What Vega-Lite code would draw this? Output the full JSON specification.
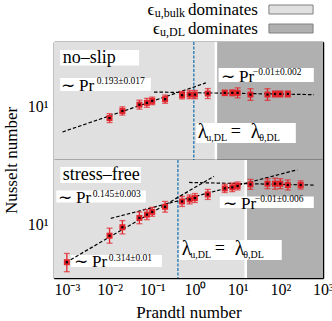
{
  "$schema": "https://vega.github.io/schema/vega-lite/v6.json",
  "padding": {"left": 1, "top": 0, "right": 5, "bottom": 0},
  "spacing": 0,
  "bounds": "flush",
  "resolve": {"scale": {"x": "independent", "y": "independent"}},
  "config": {
    "view": {"stroke": null},
    "font": "Liberation Serif",
    "text": {"font": "Liberation Serif", "color": "black"},
    "axis": {"domain": true, "domainColor": "black", "domainWidth": 1.5, "tickColor": "black", "tickWidth": 1, "grid": false, "zindex": 1,
      "labelFont": "Liberation Serif", "labelFontSize": 16, "labelColor": "black", "labelOverlap": false, "labelFlush": false, "labelBound": false,
      "titleFont": "Liberation Serif", "titleFontSize": 17, "titleFontWeight": "normal", "titleColor": "black"}
  },
  "datasets": {
    "legend": [{"row": 0, "k": "bulk", "sub": "u,bulk"}, {"row": 1, "k": "DL", "sub": "u,DL"}],
    "regionsTop": [{"a": 0.0005, "b": 3.1, "k": "bulk"}, {"a": 3.1, "b": 1000, "k": "DL"}],
    "regionsBot": [{"a": 0.0005, "b": 15.5, "k": "bulk"}, {"a": 15.5, "b": 1000, "k": "DL"}],
    "noslip": [
      {"Pr": 0.01, "Nu": 7.54, "lo": 6.73, "hi": 8.44},
      {"Pr": 0.02, "Nu": 9.03, "lo": 8.14, "hi": 10.02},
      {"Pr": 0.05, "Nu": 10.6, "lo": 9.46, "hi": 11.87},
      {"Pr": 0.075, "Nu": 11.1, "lo": 9.91, "hi": 12.43},
      {"Pr": 0.1, "Nu": 11.66, "lo": 10.6, "hi": 12.83},
      {"Pr": 0.2, "Nu": 12.18, "lo": 10.97, "hi": 13.52},
      {"Pr": 0.5, "Nu": 13.49, "lo": 12.26, "hi": 14.84},
      {"Pr": 0.75, "Nu": 13.7, "lo": 12.34, "hi": 15.21},
      {"Pr": 1, "Nu": 13.7, "lo": 12.34, "hi": 15.21},
      {"Pr": 2, "Nu": 14.05, "lo": 12.38, "hi": 15.95},
      {"Pr": 5, "Nu": 14.3, "lo": 13.36, "hi": 15.3},
      {"Pr": 7.5, "Nu": 14.3, "lo": 13.24, "hi": 15.44},
      {"Pr": 10, "Nu": 14.3, "lo": 12.6, "hi": 16.23},
      {"Pr": 20, "Nu": 13.7, "lo": 11.81, "hi": 15.89},
      {"Pr": 50, "Nu": 13.7, "lo": 11.81, "hi": 15.89},
      {"Pr": 75, "Nu": 13.9, "lo": 12.87, "hi": 15.01},
      {"Pr": 100, "Nu": 13.9, "lo": 12.87, "hi": 15.01},
      {"Pr": 150, "Nu": 13.9, "lo": 12.87, "hi": 15.01}
    ],
    "stressfree": [
      {"Pr": 0.001, "Nu": 3.88, "lo": 3.05, "hi": 4.85},
      {"Pr": 0.01, "Nu": 7.61, "lo": 6.29, "hi": 9.21},
      {"Pr": 0.02, "Nu": 9.43, "lo": 7.96, "hi": 11.17},
      {"Pr": 0.05, "Nu": 11.96, "lo": 10.31, "hi": 13.87},
      {"Pr": 0.075, "Nu": 13.0, "lo": 11.45, "hi": 14.76},
      {"Pr": 0.1, "Nu": 13.95, "lo": 12.46, "hi": 15.62},
      {"Pr": 0.2, "Nu": 15.85, "lo": 13.84, "hi": 18.15},
      {"Pr": 0.5, "Nu": 18.15, "lo": 15.99, "hi": 20.6},
      {"Pr": 0.75, "Nu": 19.1, "lo": 17.05, "hi": 21.39},
      {"Pr": 1, "Nu": 19.8, "lo": 17.68, "hi": 22.18},
      {"Pr": 2, "Nu": 21.7, "lo": 19.12, "hi": 24.63},
      {"Pr": 5, "Nu": 25.3, "lo": 22.79, "hi": 28.08},
      {"Pr": 7.5, "Nu": 25.96, "lo": 23.28, "hi": 28.95},
      {"Pr": 10, "Nu": 26.9, "lo": 24.34, "hi": 29.72},
      {"Pr": 20, "Nu": 28.0, "lo": 24.67, "hi": 31.78},
      {"Pr": 50, "Nu": 28.5, "lo": 25.11, "hi": 32.35},
      {"Pr": 75, "Nu": 28.5, "lo": 24.78, "hi": 32.78},
      {"Pr": 100, "Nu": 28.5, "lo": 25.11, "hi": 32.35},
      {"Pr": 150, "Nu": 27.6, "lo": 24.32, "hi": 31.33},
      {"Pr": 300, "Nu": 27.6, "lo": 24.86, "hi": 30.64}
    ],
    "fitTop": [
      {"seg": "a", "Pr": 0.00079, "Nu": 5.3}, {"seg": "a", "Pr": 1.8, "Nu": 18.4},
      {"seg": "b", "Pr": 0.11, "Nu": 14.6}, {"seg": "b", "Pr": 617, "Nu": 13.67}
    ],
    "fitBot": [
      {"seg": "a", "Pr": 0.00095, "Nu": 3.86}, {"seg": "a", "Pr": 2.8, "Nu": 34.3},
      {"seg": "b", "Pr": 0.0107, "Nu": 11.8}, {"seg": "b", "Pr": 250, "Nu": 40.6},
      {"seg": "c", "Pr": 0.73, "Nu": 29.4}, {"seg": "c", "Pr": 617, "Nu": 27.5}
    ]
  },
  "vconcat": [
    {
      "width": 269, "height": 40,
      "data": {"name": "legend"},
      "layer": [
        {"mark": {"type": "rect", "height": 9, "stroke": "#808080", "strokeWidth": 1},
         "encoding": {
           "x": {"datum": 0.799, "type": "quantitative", "scale": {"domain": [0, 1], "nice": false, "zero": false}, "axis": null},
           "x2": {"datum": 0.963},
           "y": {"field": "row", "type": "quantitative", "scale": {"domain": [1.71, -0.395], "nice": false, "zero": false}, "axis": null},
           "color": {"field": "k", "type": "nominal", "scale": {"domain": ["bulk", "DL"], "range": ["#e0e0e0", "#b0b0b0"]}, "legend": null}}},
        {"mark": {"type": "text", "text": "dominates", "align": "left", "baseline": "middle", "fontSize": 17},
         "encoding": {"x": {"datum": 0.498, "type": "quantitative", "axis": null}, "y": {"field": "row", "type": "quantitative", "axis": null}}},
        {"mark": {"type": "text", "align": "right", "baseline": "middle", "fontSize": 12, "dy": 3},
         "encoding": {"text": {"field": "sub"}, "x": {"datum": 0.487, "type": "quantitative", "axis": null}, "y": {"field": "row", "type": "quantitative", "axis": null}}},
        {"transform": [{"filter": "datum.row == 0"}],
         "mark": {"type": "text", "text": "ϵ", "align": "right", "baseline": "middle", "fontSize": 17},
         "encoding": {"x": {"datum": 0.3735, "type": "quantitative", "axis": null}, "y": {"field": "row", "type": "quantitative", "axis": null}}},
        {"transform": [{"filter": "datum.row == 1"}],
         "mark": {"type": "text", "text": "ϵ", "align": "right", "baseline": "middle", "fontSize": 17},
         "encoding": {"x": {"datum": 0.394, "type": "quantitative", "axis": null}, "y": {"field": "row", "type": "quantitative", "axis": null}}}
      ]
    },
    {
      "width": 269, "height": 118,
      "data": {"values": [{}]},
      "resolve": {"axis": {"x": "independent", "y": "independent"}},
      "layer": [
        {"data": {"name": "regionsTop"}, "mark": {"type": "rect"},
         "encoding": {
           "x": {"field": "a", "type": "quantitative", "scale": {"type": "log", "domain": [0.0005, 1000], "nice": false}, "axis": null},
           "x2": {"field": "b"},
           "color": {"field": "k", "type": "nominal", "scale": {"domain": ["bulk", "DL"], "range": ["#e0e0e0", "#b0b0b0"]}, "legend": null}}},
        {"mark": {"type": "rule", "color": "white", "strokeWidth": 2.5},
         "encoding": {"x": {"datum": 3.1, "type": "quantitative", "axis": null}}},
        {"mark": {"type": "rule", "color": "#1f77b4", "strokeWidth": 1.3, "strokeDash": [3, 1.5]},
         "encoding": {"x": {"datum": 0.942, "type": "quantitative", "axis": null}}},
        {"mark": {"type": "rect", "fill": "white"},
         "encoding": {"x": {"datum": 0.000697, "type": "quantitative", "axis": null}, "x2": {"datum": 0.0493},
           "y": {"datum": 42.5, "type": "quantitative", "scale": {"type": "log", "domain": [2.6, 52], "nice": false}, "axis": null}, "y2": {"datum": 28.7}}},
        {"mark": {"type": "rect", "fill": "white"},
         "encoding": {"x": {"datum": 0.000697, "type": "quantitative", "axis": null}, "x2": {"datum": 0.0927},
           "y": {"datum": 20.9, "type": "quantitative", "axis": null}, "y2": {"datum": 15.01}}},
        {"mark": {"type": "rect", "fill": "white"},
         "encoding": {"x": {"datum": 3.57, "type": "quantitative", "axis": null}, "x2": {"datum": 609},
           "y": {"datum": 26.9, "type": "quantitative", "axis": null}, "y2": {"datum": 18.87}}},
        {"mark": {"type": "rect", "fill": "white"},
         "encoding": {"x": {"datum": 1.079, "type": "quantitative", "axis": null}, "x2": {"datum": 231},
           "y": {"datum": 6.66, "type": "quantitative", "axis": null}, "y2": {"datum": 4.01}}},
        {"mark": {"type": "text", "text": "no–slip", "align": "left", "baseline": "middle", "fontSize": 18},
         "encoding": {"x": {"datum": 0.000806, "type": "quantitative", "axis": null}, "y": {"datum": 34.97, "type": "quantitative", "axis": null}}},
        {"mark": {"type": "text", "text": "∼ Pr", "align": "left", "baseline": "middle", "fontSize": 17},
         "encoding": {"x": {"datum": 0.000724, "type": "quantitative", "axis": null}, "y": {"datum": 17.04, "type": "quantitative", "axis": null}}},
        {"mark": {"type": "text", "text": "0.193±0.017", "align": "left", "baseline": "middle", "fontSize": 9.5},
         "encoding": {"x": {"datum": 0.00504, "type": "quantitative", "axis": null}, "y": {"datum": 19.1, "type": "quantitative", "axis": null}}},
        {"mark": {"type": "text", "text": "∼ Pr", "align": "left", "baseline": "middle", "fontSize": 17},
         "encoding": {"x": {"datum": 4.04, "type": "quantitative", "axis": null}, "y": {"datum": 21.4, "type": "quantitative", "axis": null}}},
        {"mark": {"type": "text", "text": "−0.01±0.002", "align": "left", "baseline": "middle", "fontSize": 9.5},
         "encoding": {"x": {"datum": 22.7, "type": "quantitative", "axis": null}, "y": {"datum": 24.0, "type": "quantitative", "axis": null}}},
        {"mark": {"type": "text", "text": "λ", "align": "left", "baseline": "middle", "fontSize": 20},
         "encoding": {"x": {"datum": 1.17, "type": "quantitative", "axis": null}, "y": {"datum": 5.3, "type": "quantitative", "axis": null}}},
        {"mark": {"type": "text", "text": "u,DL", "align": "left", "baseline": "middle", "fontSize": 10},
         "encoding": {"x": {"datum": 1.85, "type": "quantitative", "axis": null}, "y": {"datum": 4.55, "type": "quantitative", "axis": null}}},
        {"mark": {"type": "text", "text": "=", "align": "left", "baseline": "middle", "fontSize": 18},
         "encoding": {"x": {"datum": 6.93, "type": "quantitative", "axis": null}, "y": {"datum": 5.3, "type": "quantitative", "axis": null}}},
        {"mark": {"type": "text", "text": "λ", "align": "left", "baseline": "middle", "fontSize": 20},
         "encoding": {"x": {"datum": 20.4, "type": "quantitative", "axis": null}, "y": {"datum": 5.3, "type": "quantitative", "axis": null}}},
        {"mark": {"type": "text", "text": "θ,DL", "align": "left", "baseline": "middle", "fontSize": 10},
         "encoding": {"x": {"datum": 32.2, "type": "quantitative", "axis": null}, "y": {"datum": 4.55, "type": "quantitative", "axis": null}}},
        {"data": {"name": "fitTop"}, "mark": {"type": "line", "color": "black", "strokeWidth": 1.2, "strokeDash": [3.5, 2]},
         "encoding": {"x": {"field": "Pr", "type": "quantitative", "axis": null}, "y": {"field": "Nu", "type": "quantitative", "axis": null}, "detail": {"field": "seg"}}},
        {"data": {"name": "noslip"}, "mark": {"type": "rule", "color": "#e3242b", "strokeWidth": 1.3},
         "encoding": {
           "x": {"field": "Pr", "type": "quantitative", "axis": {"orient": "top", "labels": false, "title": null,
             "values": [0.0005,0.0006,0.0007,0.0008,0.0009,0.001,0.002,0.003,0.004,0.005,0.006,0.007,0.008,0.009,0.01,0.02,0.03,0.04,0.05,0.06,0.07,0.08,0.09,0.1,0.2,0.3,0.4,0.5,0.6,0.7,0.8,0.9,1,2,3,4,5,6,7,8,9,10,20,30,40,50,60,70,80,90,100,200,300,400,500,600,700,800,900,1000],
             "tickSize": {"condition": {"test": "abs(log(datum.value)/LN10-round(log(datum.value)/LN10))<0.001", "value": -6}, "value": -3.5}}},
           "y": {"field": "lo", "type": "quantitative", "axis": {"orient": "right", "labels": false, "title": null,
             "values": [3,4,5,6,7,8,9,10,20,30,40,50],
             "tickSize": {"condition": {"test": "abs(log(datum.value)/LN10-round(log(datum.value)/LN10))<0.001", "value": -6}, "value": -3.5}}},
           "y2": {"field": "hi"}}},
        {"data": {"name": "noslip"}, "mark": {"type": "tick", "orient": "horizontal", "color": "#e3242b", "size": 6, "thickness": 1.3},
         "encoding": {"x": {"field": "Pr", "type": "quantitative", "axis": null}, "y": {"field": "lo", "type": "quantitative", "axis": null}}},
        {"data": {"name": "noslip"}, "mark": {"type": "tick", "orient": "horizontal", "color": "#e3242b", "size": 6, "thickness": 1.3},
         "encoding": {"x": {"field": "Pr", "type": "quantitative", "axis": null}, "y": {"field": "hi", "type": "quantitative", "axis": null}}},
        {"data": {"name": "noslip"}, "mark": {"type": "square", "color": "#e3242b", "size": 36, "opacity": 1},
         "encoding": {
           "x": {"field": "Pr", "type": "quantitative", "axis": {"orient": "bottom", "labels": false, "title": null,
             "values": [0.0005,0.0006,0.0007,0.0008,0.0009,0.001,0.002,0.003,0.004,0.005,0.006,0.007,0.008,0.009,0.01,0.02,0.03,0.04,0.05,0.06,0.07,0.08,0.09,0.1,0.2,0.3,0.4,0.5,0.6,0.7,0.8,0.9,1,2,3,4,5,6,7,8,9,10,20,30,40,50,60,70,80,90,100,200,300,400,500,600,700,800,900,1000],
             "tickSize": {"condition": {"test": "abs(log(datum.value)/LN10-round(log(datum.value)/LN10))<0.001", "value": -6}, "value": -3.5}}},
           "y": {"field": "Nu", "type": "quantitative", "axis": {"orient": "left", "title": null, "labelPadding": 12,
             "labelExpr": "datum.value == 10 ? '10¹' : ''",
             "values": [3,4,5,6,7,8,9,10,20,30,40,50],
             "tickSize": {"condition": {"test": "abs(log(datum.value)/LN10-round(log(datum.value)/LN10))<0.001", "value": -6}, "value": -3.5}}}}},
        {"data": {"name": "noslip"}, "mark": {"type": "square", "color": "black", "size": 5, "opacity": 1},
         "encoding": {"x": {"field": "Pr", "type": "quantitative", "axis": null}, "y": {"field": "Nu", "type": "quantitative", "axis": null}}}
      ]
    },
    {
      "width": 269, "height": 118,
      "data": {"values": [{}]},
      "resolve": {"axis": {"x": "independent", "y": "independent"}},
      "layer": [
        {"data": {"name": "regionsBot"}, "mark": {"type": "rect"},
         "encoding": {
           "x": {"field": "a", "type": "quantitative", "scale": {"type": "log", "domain": [0.0005, 1000], "nice": false}, "axis": null},
           "x2": {"field": "b"},
           "color": {"field": "k", "type": "nominal", "scale": {"domain": ["bulk", "DL"], "range": ["#e0e0e0", "#b0b0b0"]}, "legend": null}}},
        {"mark": {"type": "rule", "color": "white", "strokeWidth": 2.5},
         "encoding": {"x": {"datum": 15.5, "type": "quantitative", "axis": null}}},
        {"mark": {"type": "rule", "color": "#1f77b4", "strokeWidth": 1.3, "strokeDash": [3, 1.5]},
         "encoding": {"x": {"datum": 0.4, "type": "quantitative", "axis": null}}},
        {"mark": {"type": "rect", "fill": "white"},
         "encoding": {"x": {"datum": 0.000705, "type": "quantitative", "axis": null}, "x2": {"datum": 0.054},
           "y": {"datum": 43.6, "type": "quantitative", "scale": {"type": "log", "domain": [2.6, 52], "nice": false}, "axis": null}, "y2": {"datum": 29.0}}},
        {"mark": {"type": "rect", "fill": "white"},
         "encoding": {"x": {"datum": 0.000568, "type": "quantitative", "axis": null}, "x2": {"datum": 0.0708},
           "y": {"datum": 24.0, "type": "quantitative", "axis": null}, "y2": {"datum": 17.7}}},
        {"mark": {"type": "rect", "fill": "white"},
         "encoding": {"x": {"datum": 3.83, "type": "quantitative", "axis": null}, "x2": {"datum": 609},
           "y": {"datum": 20.6, "type": "quantitative", "axis": null}, "y2": {"datum": 15.39}}},
        {"mark": {"type": "rect", "fill": "white"},
         "encoding": {"x": {"datum": 0.432, "type": "quantitative", "axis": null}, "x2": {"datum": 108},
           "y": {"datum": 6.83, "type": "quantitative", "axis": null}, "y2": {"datum": 4.11}}},
        {"mark": {"type": "rect", "fill": "white"},
         "encoding": {"x": {"datum": 0.00124, "type": "quantitative", "axis": null}, "x2": {"datum": 0.168},
           "y": {"datum": 4.67, "type": "quantitative", "axis": null}, "y2": {"datum": 3.44}}},
        {"mark": {"type": "text", "text": "stress–free", "align": "left", "baseline": "middle", "fontSize": 18},
         "encoding": {"x": {"datum": 0.000806, "type": "quantitative", "axis": null}, "y": {"datum": 35.6, "type": "quantitative", "axis": null}}},
        {"mark": {"type": "text", "text": "∼ Pr", "align": "left", "baseline": "middle", "fontSize": 17},
         "encoding": {"x": {"datum": 0.000615, "type": "quantitative", "axis": null}, "y": {"datum": 19.6, "type": "quantitative", "axis": null}}},
        {"mark": {"type": "text", "text": "0.145±0.003", "align": "left", "baseline": "middle", "fontSize": 9.5},
         "encoding": {"x": {"datum": 0.00406, "type": "quantitative", "axis": null}, "y": {"datum": 22.0, "type": "quantitative", "axis": null}}},
        {"mark": {"type": "text", "text": "∼ Pr", "align": "left", "baseline": "middle", "fontSize": 17},
         "encoding": {"x": {"datum": 4.5, "type": "quantitative", "axis": null}, "y": {"datum": 17.04, "type": "quantitative", "axis": null}}},
        {"mark": {"type": "text", "text": "−0.01±0.006", "align": "left", "baseline": "middle", "fontSize": 9.5},
         "encoding": {"x": {"datum": 25.3, "type": "quantitative", "axis": null}, "y": {"datum": 19.1, "type": "quantitative", "axis": null}}},
        {"mark": {"type": "text", "text": "∼ Pr", "align": "left", "baseline": "middle", "fontSize": 17},
         "encoding": {"x": {"datum": 0.00146, "type": "quantitative", "axis": null}, "y": {"datum": 3.86, "type": "quantitative", "axis": null}}},
        {"mark": {"type": "text", "text": "0.314±0.01", "align": "left", "baseline": "middle", "fontSize": 9.5},
         "encoding": {"x": {"datum": 0.00963, "type": "quantitative", "axis": null}, "y": {"datum": 4.33, "type": "quantitative", "axis": null}}},
        {"mark": {"type": "text", "text": "λ", "align": "left", "baseline": "middle", "fontSize": 20},
         "encoding": {"x": {"datum": 0.493, "type": "quantitative", "axis": null}, "y": {"datum": 5.44, "type": "quantitative", "axis": null}}},
        {"mark": {"type": "text", "text": "u,DL", "align": "left", "baseline": "middle", "fontSize": 10},
         "encoding": {"x": {"datum": 0.78, "type": "quantitative", "axis": null}, "y": {"datum": 4.67, "type": "quantitative", "axis": null}}},
        {"mark": {"type": "text", "text": "=", "align": "left", "baseline": "middle", "fontSize": 18},
         "encoding": {"x": {"datum": 2.92, "type": "quantitative", "axis": null}, "y": {"datum": 5.44, "type": "quantitative", "axis": null}}},
        {"mark": {"type": "text", "text": "λ", "align": "left", "baseline": "middle", "fontSize": 20},
         "encoding": {"x": {"datum": 8.59, "type": "quantitative", "axis": null}, "y": {"datum": 5.44, "type": "quantitative", "axis": null}}},
        {"mark": {"type": "text", "text": "θ,DL", "align": "left", "baseline": "middle", "fontSize": 10},
         "encoding": {"x": {"datum": 13.6, "type": "quantitative", "axis": null}, "y": {"datum": 4.67, "type": "quantitative", "axis": null}}},
        {"data": {"name": "fitBot"}, "mark": {"type": "line", "color": "black", "strokeWidth": 1.2, "strokeDash": [3.5, 2]},
         "encoding": {"x": {"field": "Pr", "type": "quantitative", "axis": null}, "y": {"field": "Nu", "type": "quantitative", "axis": null}, "detail": {"field": "seg"}}},
        {"data": {"name": "stressfree"}, "mark": {"type": "rule", "color": "#e3242b", "strokeWidth": 1.3},
         "encoding": {
           "x": {"field": "Pr", "type": "quantitative", "axis": {"orient": "top", "labels": false, "title": null,
             "values": [0.0005,0.0006,0.0007,0.0008,0.0009,0.001,0.002,0.003,0.004,0.005,0.006,0.007,0.008,0.009,0.01,0.02,0.03,0.04,0.05,0.06,0.07,0.08,0.09,0.1,0.2,0.3,0.4,0.5,0.6,0.7,0.8,0.9,1,2,3,4,5,6,7,8,9,10,20,30,40,50,60,70,80,90,100,200,300,400,500,600,700,800,900,1000],
             "tickSize": {"condition": {"test": "abs(log(datum.value)/LN10-round(log(datum.value)/LN10))<0.001", "value": -6}, "value": -3.5}}},
           "y": {"field": "lo", "type": "quantitative", "axis": {"orient": "right", "labels": false, "title": null,
             "values": [3,4,5,6,7,8,9,10,20,30,40,50],
             "tickSize": {"condition": {"test": "abs(log(datum.value)/LN10-round(log(datum.value)/LN10))<0.001", "value": -6}, "value": -3.5}}},
           "y2": {"field": "hi"}}},
        {"data": {"name": "stressfree"}, "mark": {"type": "tick", "orient": "horizontal", "color": "#e3242b", "size": 6, "thickness": 1.3},
         "encoding": {"x": {"field": "Pr", "type": "quantitative", "axis": null}, "y": {"field": "lo", "type": "quantitative", "axis": null}}},
        {"data": {"name": "stressfree"}, "mark": {"type": "tick", "orient": "horizontal", "color": "#e3242b", "size": 6, "thickness": 1.3},
         "encoding": {"x": {"field": "Pr", "type": "quantitative", "axis": null}, "y": {"field": "hi", "type": "quantitative", "axis": null}}},
        {"data": {"name": "stressfree"}, "mark": {"type": "square", "color": "#e3242b", "size": 36, "opacity": 1},
         "encoding": {
           "x": {"field": "Pr", "type": "quantitative", "axis": {"orient": "bottom", "title": "Prandtl number", "labelPadding": 9, "titlePadding": 5,
             "labelExpr": "abs(log(datum.value)/LN10-round(log(datum.value)/LN10))<0.001 ? '10' + ['⁻³','⁻²','⁻¹','⁰','¹','²','³'][round(log(datum.value)/LN10)+3] : ''",
             "values": [0.0005,0.0006,0.0007,0.0008,0.0009,0.001,0.002,0.003,0.004,0.005,0.006,0.007,0.008,0.009,0.01,0.02,0.03,0.04,0.05,0.06,0.07,0.08,0.09,0.1,0.2,0.3,0.4,0.5,0.6,0.7,0.8,0.9,1,2,3,4,5,6,7,8,9,10,20,30,40,50,60,70,80,90,100,200,300,400,500,600,700,800,900,1000],
             "tickSize": {"condition": {"test": "abs(log(datum.value)/LN10-round(log(datum.value)/LN10))<0.001", "value": -6}, "value": -3.5}}},
           "y": {"field": "Nu", "type": "quantitative", "axis": {"orient": "left", "title": "Nusselt number", "labelPadding": 12,
             "titleX": -43, "titleY": 0, "titleAngle": 270, "titleAlign": "center", "titleBaseline": "middle",
             "labelExpr": "datum.value == 10 ? '10¹' : ''",
             "values": [3,4,5,6,7,8,9,10,20,30,40,50],
             "tickSize": {"condition": {"test": "abs(log(datum.value)/LN10-round(log(datum.value)/LN10))<0.001", "value": -6}, "value": -3.5}}}}},
        {"data": {"name": "stressfree"}, "mark": {"type": "square", "color": "black", "size": 5, "opacity": 1},
         "encoding": {"x": {"field": "Pr", "type": "quantitative", "axis": null}, "y": {"field": "Nu", "type": "quantitative", "axis": null}}}
      ]
    }
  ]
}
